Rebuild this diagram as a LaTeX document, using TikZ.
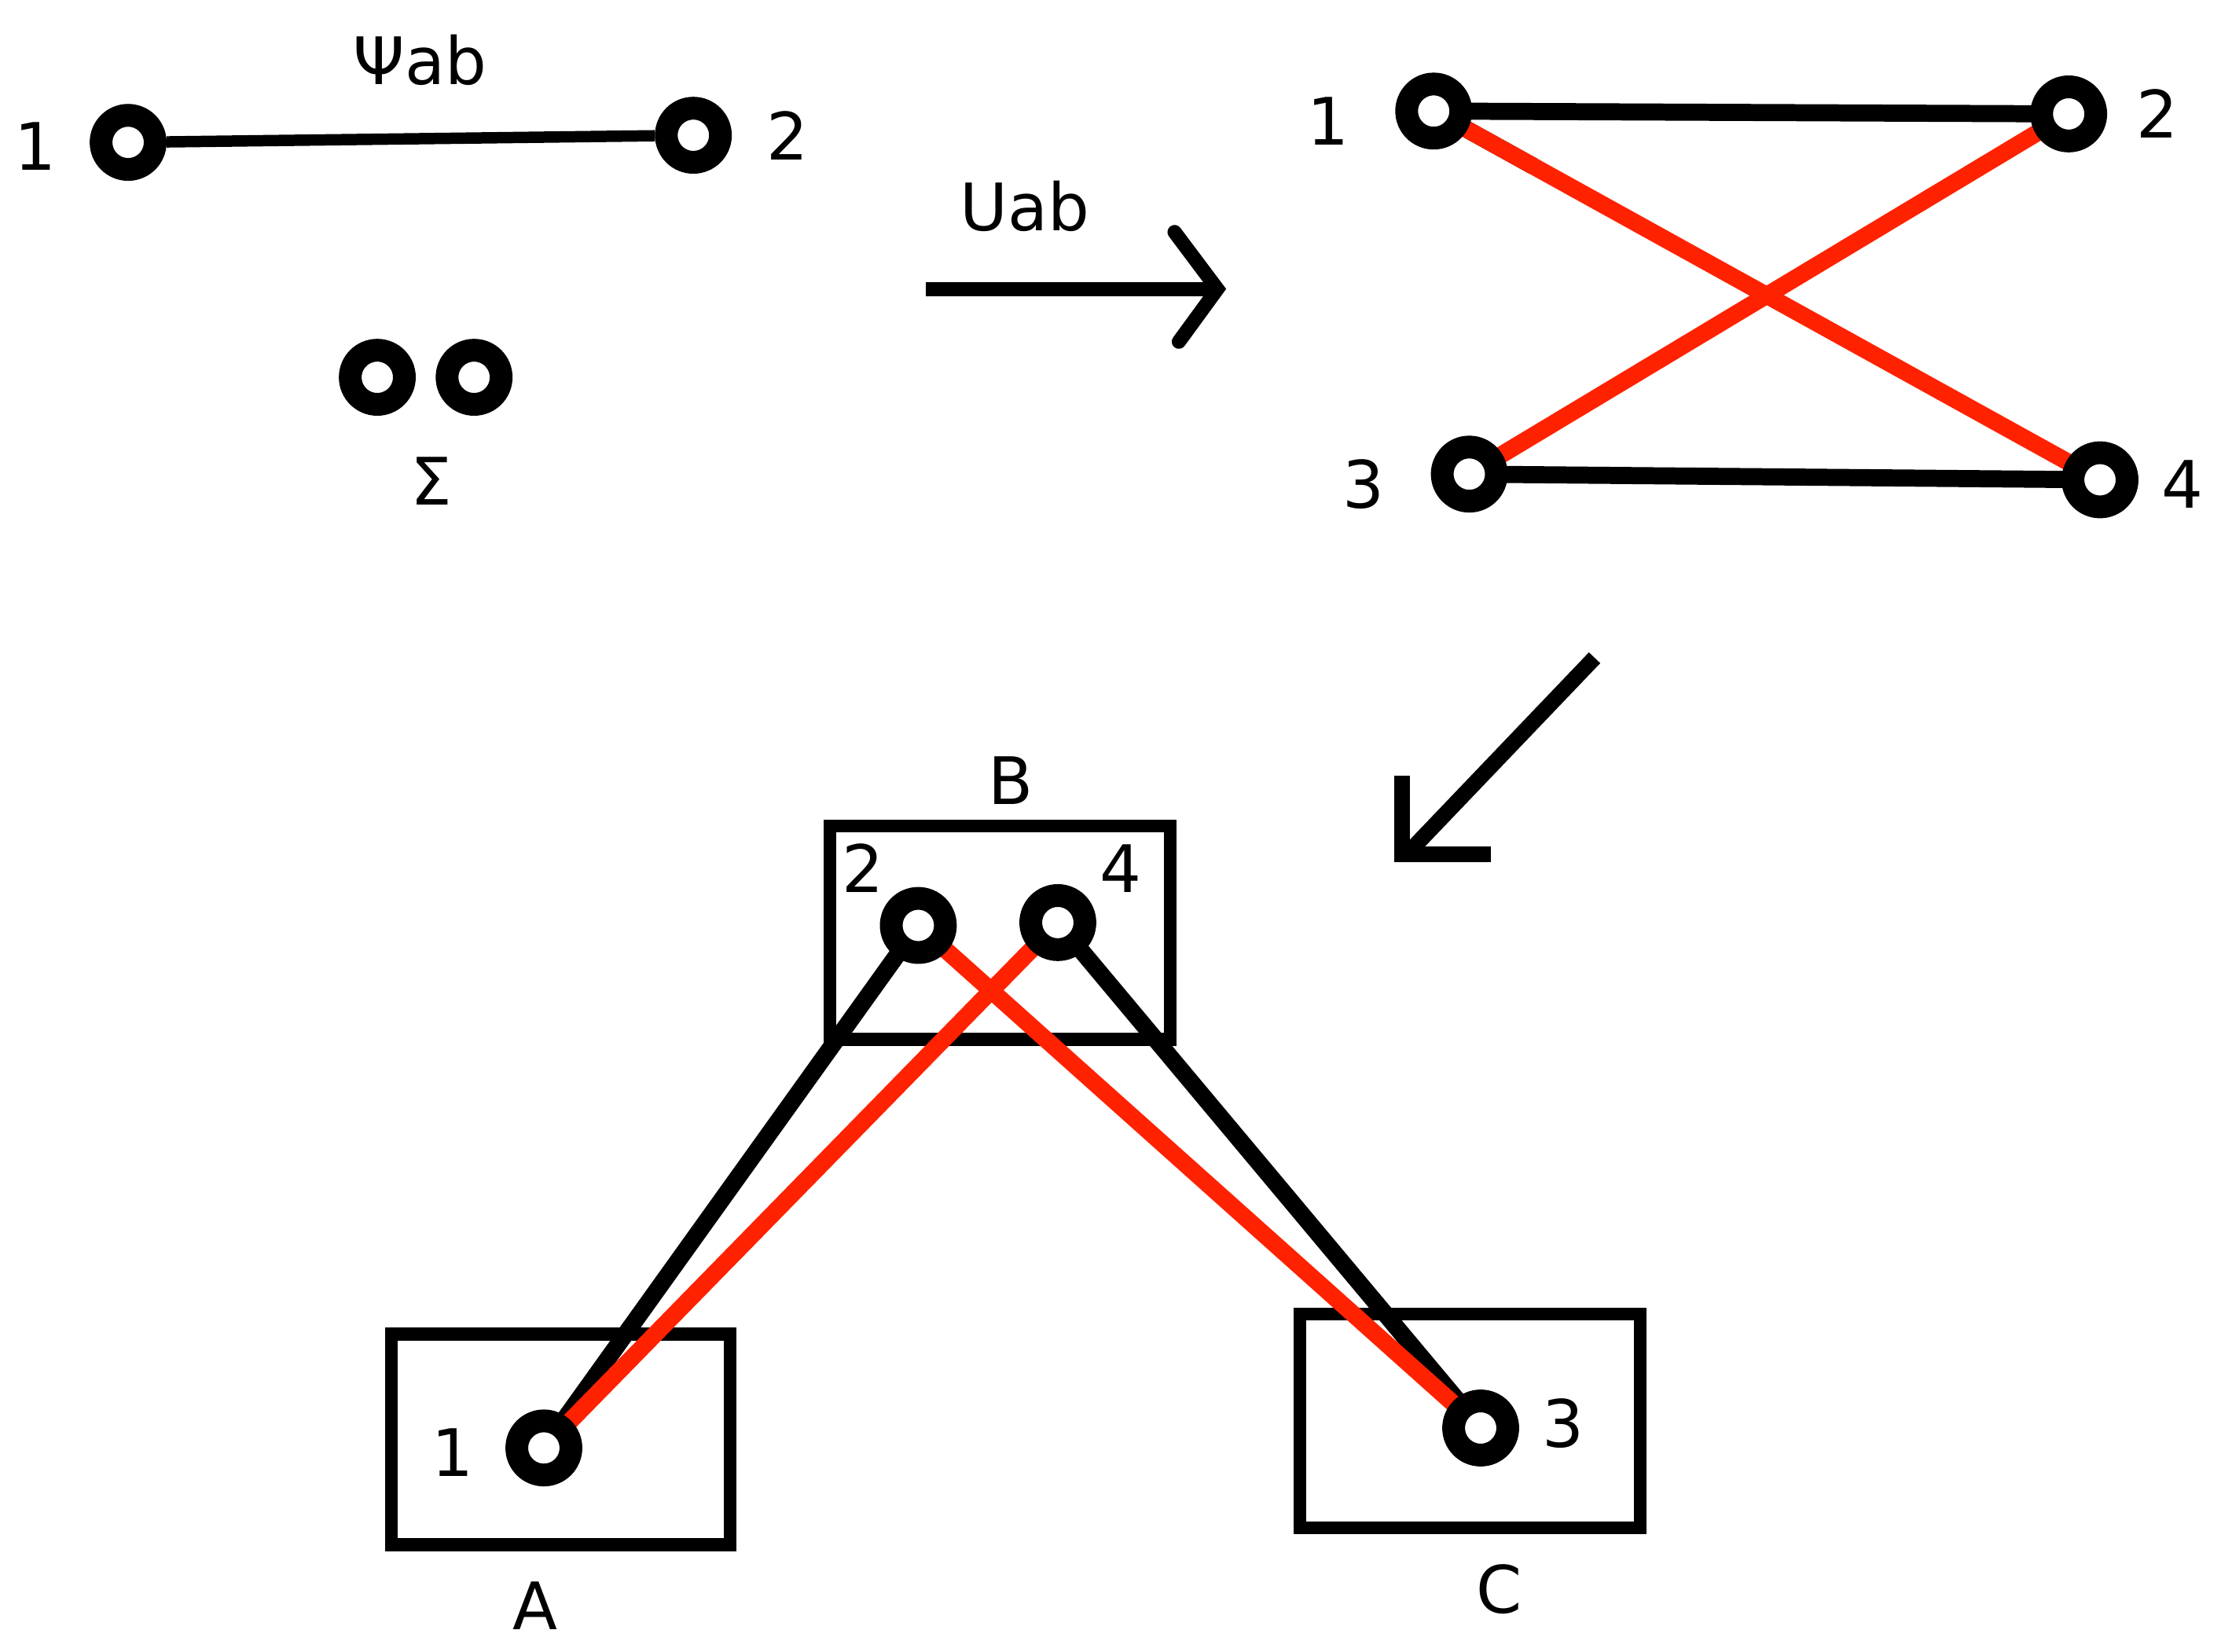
\documentclass[tikz,border=0pt]{standalone}
\usepackage{fontspec}
\setmainfont{DejaVu Sans}
\usetikzlibrary{calc}
\begin{document}
\begin{tikzpicture}[x=1pt,y=-1pt,
  ring/.style={circle,draw=black,fill=white,line width=16pt,minimum size=38pt,inner sep=0pt},
  lab/.style={font=\fontsize{46}{52}\selectfont},
  blk/.style={line width=12pt,black},
  red/.style={line width=12pt,color={rgb,255:red,255;green,34;blue,0}},
  bx/.style={draw,line width=9pt}]
\useasboundingbox (0,0) rectangle (1560,1160);
% top left
\node[ring] (a1) at (90,100) {};
\node[ring] (a2) at (487,95) {};
\draw[line width=8pt] (a1) -- (a2);
\node[lab] (la1) at (25,103) {1};
\node[lab] (la2) at (553,95) {2};
\node[lab] (psi) at (295,42) {Ψab};
\node[ring] (s1) at (265,265) {};
\node[ring] (s2) at (333,265) {};
\node[lab] (sig) at (303,338) {Σ};
% arrow 1
\coordinate (r0) at (650,203);
\coordinate (r1) at (855,203);
\draw[line width=10pt] (r0) -- (r1);
\draw[line width=10pt,line cap=round] (825,163) -- (855,203) -- (828,240);
\node[lab] (uab) at (720,145) {Uab};
% right graph
\coordinate (b1) at (1007,78);
\coordinate (b2) at (1453,80);
\coordinate (b3) at (1032,333);
\coordinate (b4) at (1475,337);
\draw[blk] (b1) -- (b2);
\draw[blk] (b3) -- (b4);
\draw[blk] (b1) -- ($(b1)!0.15!(b4)$);
\draw[red] (b1) -- (b4);
\draw[red] (b3) -- (b2);
\foreach \n in {b1,b2,b3,b4} \node[ring] at (\n) {};
\node[lab] at (933,85) {1};
\node[lab] at (1515,80) {2};
\node[lab] at (958,340) {3};
\node[lab] at (1533,340) {4};
% arrow 2
\draw[line width=11pt] (1120,462) -- (990,598);
\draw[line width=11pt] (985,545) -- (985,600) -- (1047,600);
% boxes
\draw[bx] (583,580) rectangle (822,730);
\draw[bx] (275,937) rectangle (513,1085);
\draw[bx] (913,923) rectangle (1152,1073);
\coordinate (cA) at (382,1017);
\coordinate (cB2) at (645,650);
\coordinate (cB4) at (743,648);
\coordinate (cC) at (1040,1003);
\draw[blk] (cA) -- (cB2);
\draw[blk] (cB4) -- (cC);
\draw[red] (cA) -- (cB4);
\draw[red] (cB2) -- (cC);
\foreach \n in {cA,cB2,cB4,cC} \node[ring] at (\n) {};
\node[lab] at (710,548) {B};
\node[lab] at (606,610) {2};
\node[lab] at (787,610) {4};
\node[lab] at (318,1020) {1};
\node[lab] at (376,1128) {A};
\node[lab] at (1053,1116) {C};
\node[lab] at (1098,1000) {3};
\end{tikzpicture}
\end{document}
